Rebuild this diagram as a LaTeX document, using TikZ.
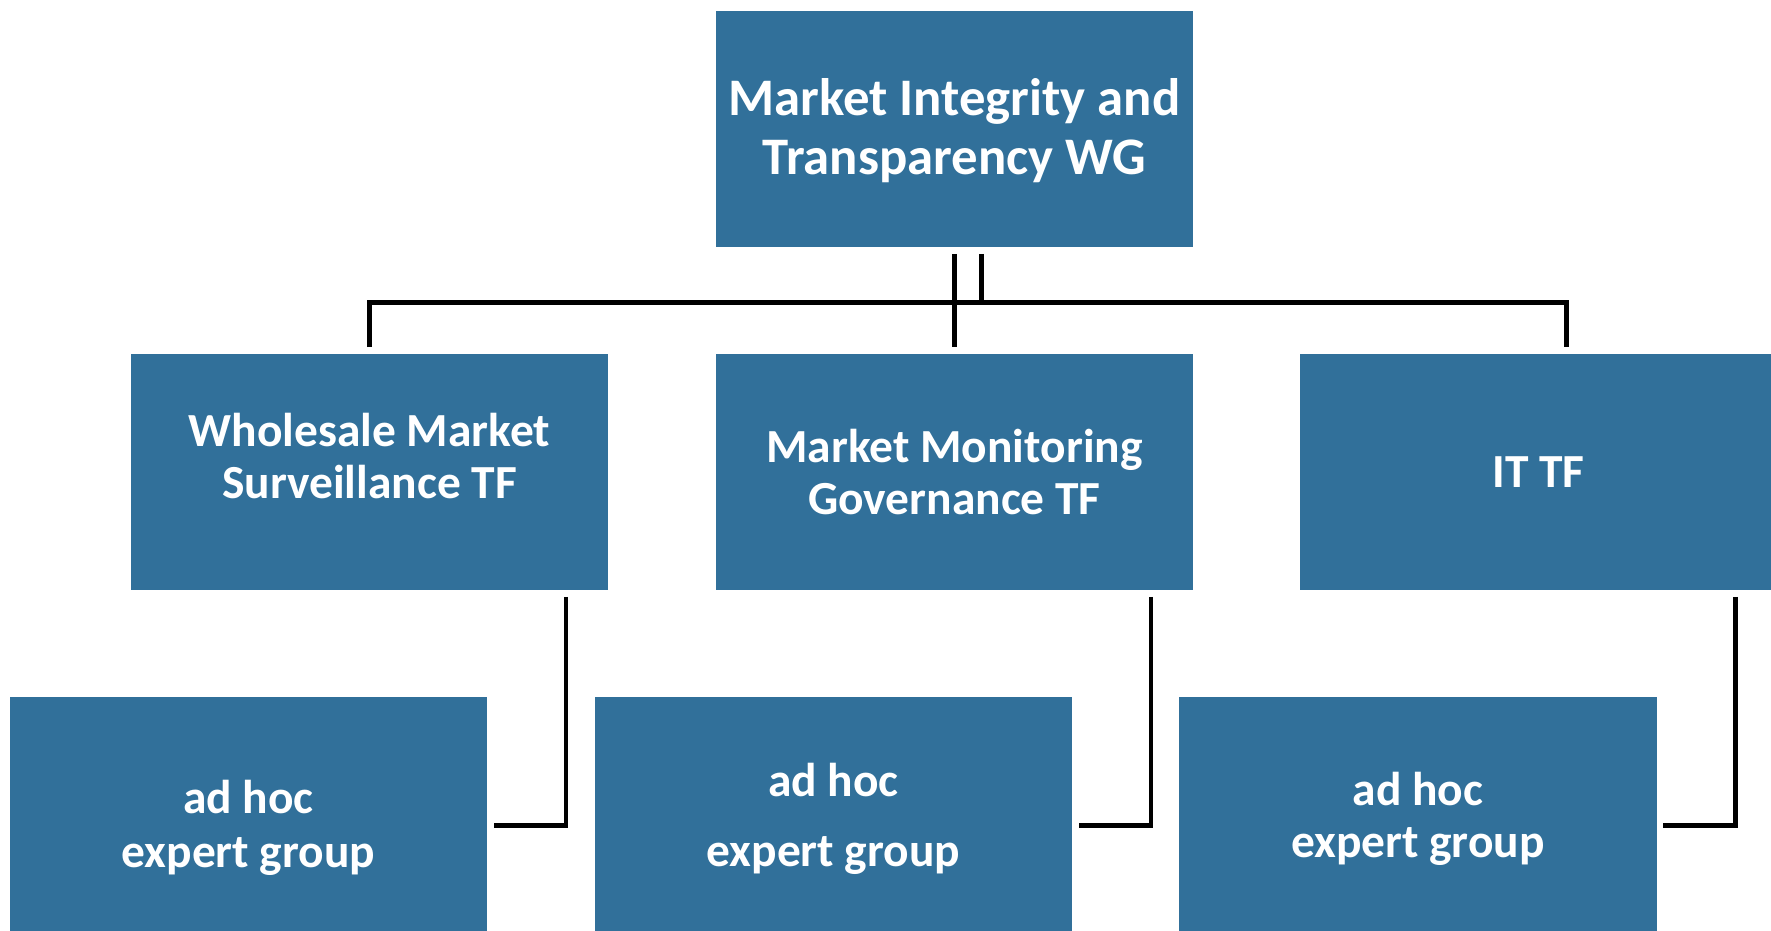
\documentclass[tikz,border=0pt]{standalone}
\usepackage{fontspec}
\setmainfont{Carlito}
\usepackage{tikz}
\definecolor{mitblue}{HTML}{31709A}

\tikzset{
	box/.style={rectangle, fill=mitblue, minimum width=4.77cm, minimum height=2.36cm, inner sep=0pt, text=white, align=center},
	txt/.style={text=white, align=center, inner sep=0pt},
	link/.style={line width=1.4pt, black, shorten <=0.06cm, shorten >=0.06cm}
}

\begin{document}
\begin{tikzpicture}[x=0.01cm, y=-0.01cm]
	\useasboundingbox (0,0) rectangle (1771,931);
	
	% working group
	\node[box] (mit) at (954.5,129) {};
	\node[txt, font=\bfseries\fontsize{15}{16.8}\selectfont] (mitT) at (954.5,131) {Market Integrity and\\Transparency WG};
	
	% task forces
	\node[box] (wms) at (369.5,472) {};
	\node[txt, font=\bfseries\fontsize{13.5}{14.8}\selectfont] (wmsT) at (369.5,456) {Wholesale Market\\Surveillance TF};
	\node[box, font=\bfseries\fontsize{13.5}{14.8}\selectfont] (mmg) at (954.5,472) {Market Monitoring\\Governance TF};
	\node[box, font=\bfseries\fontsize{13.5}{14.8}\selectfont] (itf) at (1538.5,472) {IT TF};
	
	% expert groups
	\node[box] (ahA) at (248.5,815) {};
	\node[txt, font=\bfseries\fontsize{13.5}{15.4}\selectfont] (ahAT) at (248.5,828) {ad hoc\\expert group};
	\node[box] (ahB) at (833.5,815) {};
	\node[txt, font=\bfseries\fontsize{13.5}{15.4}\selectfont] (ahBT) at (833.5,819) {ad hoc\\[4.5pt]expert group};
	\node[box] (ahC) at (1418,815) {};
	\node[txt, font=\bfseries\fontsize{13.5}{14.6}\selectfont] (ahCT) at (1418,819) {ad hoc\\expert group};
	
	\coordinate (bus) at (0,302.7);
	\coordinate (busR) at (1566.7,302.7);
	\coordinate (kneeA) at (566,825.3);
	\coordinate (kneeB) at (1151,825.3);
	\coordinate (kneeC) at (1735.7,825.3);
	
	% top connectors
	\draw[link] (mit.south) -- (mmg.north);
	\draw[link, shorten >=0pt] ([xshift=0.27cm]mit.south) -- ([xshift=0.27cm]mit.south |- bus);
	\draw[link] (wms.north) -- (wms.north |- bus) -- (busR) -- (busR |- itf.north);
	
	% lower connectors
	\draw[link] (wms.south -| kneeA) -- (kneeA) -- (kneeA -| ahA.east);
	\draw[link] (mmg.south -| kneeB) -- (kneeB) -- (kneeB -| ahB.east);
	\draw[link] (itf.south -| kneeC) -- (kneeC) -- (kneeC -| ahC.east);
	
\end{tikzpicture}
\end{document}
